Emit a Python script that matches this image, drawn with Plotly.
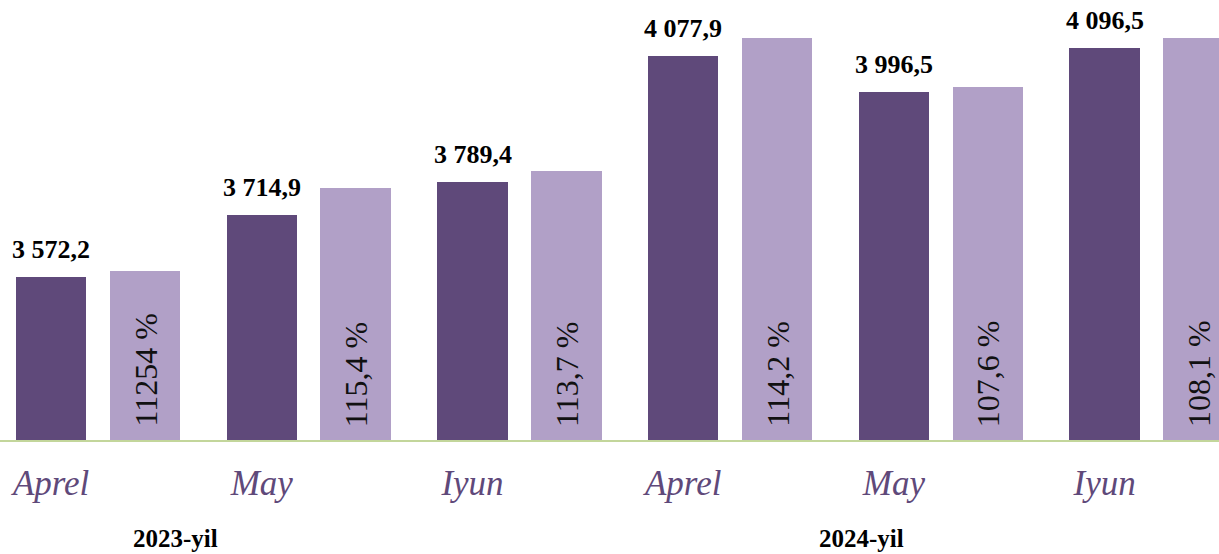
import plotly.graph_objects as go

# ---- data ----
months = ["Aprel", "May", "Iyun", "Aprel", "May", "Iyun"]
years = ["2023-yil", "2024-yil"]
volume = [3572.2, 3714.9, 3789.4, 4077.9, 3996.5, 4096.5]
volume_labels = ["3 572,2", "3 714,9", "3 789,4", "4 077,9", "3 996,5", "4 096,5"]
growth_labels = ["11254 %", "115,4 %", "113,7 %", "114,2 %", "107,6 %", "108,1 %"]
growth_bar_heights = [3586, 3777, 3816, 4120, 4007, 4120]

# ---- layout constants ----
AXIS_MIN, AXIS_MAX = 3200, 4120
OFF = 0.223
BW = 0.335
DARK = "#5f497a"
LIGHT = "#b1a0c7"
SERIF = "Liberation Serif, Times New Roman, serif"

idx = list(range(len(months)))
x_dark = [i - OFF for i in idx]
x_light = [i + OFF for i in idx]

fig = go.Figure()
fig.add_trace(go.Bar(
    x=x_dark, y=[v - AXIS_MIN for v in volume], base=AXIS_MIN,
    width=BW, marker=dict(color=DARK, line=dict(width=0)), showlegend=False,
))
fig.add_trace(go.Bar(
    x=x_light, y=[v - AXIS_MIN for v in growth_bar_heights], base=AXIS_MIN,
    width=BW, marker=dict(color=LIGHT, line=dict(width=0)), showlegend=False,
))

annotations = []
for xd, v, lab in zip(x_dark, volume, volume_labels):
    annotations.append(dict(
        x=xd, y=v, xref="x", yref="y", text=lab, showarrow=False,
        yanchor="bottom", xanchor="center", yshift=11,
        font=dict(family=SERIF, size=26, color="#000000", weight="bold"),
    ))
for xl, lab in zip(x_light, growth_labels):
    annotations.append(dict(
        x=xl, y=AXIS_MIN, xref="x", yref="y", text=lab, showarrow=False,
        yanchor="bottom", xanchor="center", yshift=11, textangle=-90,
        font=dict(family=SERIF, size=32, color="#111111"),
    ))
for yx, lab in zip([175 / 1219, 861 / 1219], years):
    annotations.append(dict(
        x=yx, y=-0.244, xref="paper", yref="paper", text=lab, showarrow=False,
        yanchor="middle", xanchor="center",
        font=dict(family=SERIF, size=25, color="#000000", weight="bold"),
    ))

fig.update_layout(
    width=1219, height=554,
    margin=dict(l=0, r=0, t=38, b=114),
    paper_bgcolor="white", plot_bgcolor="white",
    bargap=0, barmode="overlay",
    annotations=annotations,
    xaxis=dict(
        range=[-0.4656, 5.320], tickvals=x_dark, ticktext=months,
        showgrid=False, zeroline=False, showline=True,
        linecolor="#c3d69b", linewidth=1.5, ticks="",
        tickfont=dict(family=SERIF, size=35, color=DARK, style="italic"),
        ticklabelstandoff=11,
    ),
    yaxis=dict(
        range=[AXIS_MIN, AXIS_MAX], visible=False, showgrid=False, zeroline=False,
    ),
)

fig.write_html(
    "out.html",
    config={"displayModeBar": False},
    post_script="document.body.style.margin='0';document.body.style.overflow='hidden';",
)
